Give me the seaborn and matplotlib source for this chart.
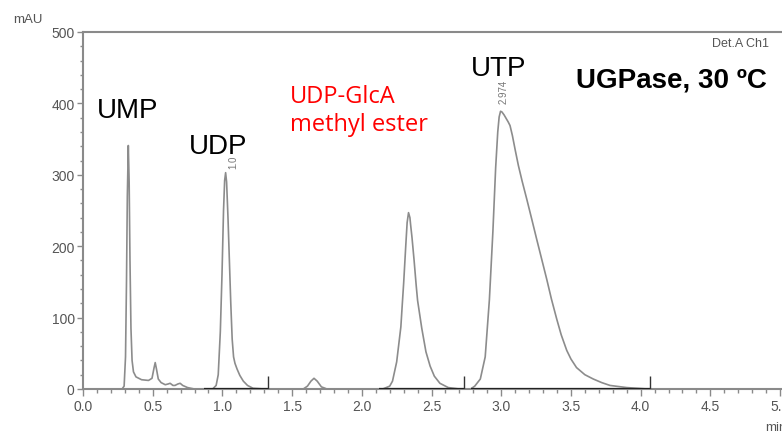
import pandas as pd
import matplotlib
matplotlib.use('Agg')
import matplotlib.pyplot as plt
from matplotlib.ticker import MultipleLocator
import seaborn as sns

# Chromatogram trace (time in min, absorbance in mAU)
time_min = [0.00, 0.28, 0.295, 0.305, 0.312, 0.318, 0.325, 0.331, 0.337, 0.344,
            0.352, 0.362, 0.38, 0.42, 0.47, 0.495, 0.51, 0.518, 0.527, 0.54,
            0.56, 0.59, 0.61, 0.625, 0.645, 0.66, 0.68, 0.697, 0.715, 0.75,
            0.80, 0.93, 0.955, 0.97, 0.985, 0.997, 1.008, 1.016, 1.023, 1.030,
            1.040, 1.05, 1.06, 1.07, 1.08, 1.09, 1.105, 1.125, 1.15, 1.18,
            1.22, 1.30, 1.58, 1.61, 1.635, 1.657, 1.68, 1.71, 1.75, 2.15,
            2.20, 2.22, 2.25, 2.28, 2.29, 2.30, 2.315, 2.325, 2.335, 2.345,
            2.35, 2.36, 2.375, 2.39, 2.40, 2.43, 2.46, 2.49, 2.52, 2.56,
            2.62, 2.70, 2.78, 2.81, 2.85, 2.885, 2.915, 2.94, 2.96, 2.975,
            2.985, 2.995, 3.005, 3.02, 3.035, 3.05, 3.063, 3.08, 3.10, 3.123,
            3.15, 3.183, 3.22, 3.254, 3.29, 3.326, 3.36, 3.398, 3.43, 3.47,
            3.50, 3.54, 3.60, 3.66, 3.72, 3.78, 3.90, 4.05, 5.20]
mau = [0, 0, 4, 45, 150, 270, 341, 290, 180, 85,
       40, 24, 17, 13, 12, 15, 30, 37, 28, 14,
       9, 6, 7, 8, 5, 5, 7, 8, 5, 2,
       0, 0, 5, 20, 80, 160, 250, 292, 303, 290,
       240, 180, 120, 70, 45, 36, 28, 19, 11, 5,
       1, 0, 0, 4, 11, 15, 11, 3, 0, 0,
       4, 11, 38, 87, 118, 148, 200, 233, 247, 240,
       230, 212, 180, 145, 124, 85, 52, 32, 18, 8,
       2, 0, 0, 4, 14, 45, 125, 220, 310, 360,
       381, 389, 388, 384, 379, 374, 369, 355, 335, 313,
       291, 266, 237, 210, 182, 154, 126, 98, 76, 54,
       42, 30, 20, 14, 9, 5, 2, 0, 0]

# Integration baselines and peak-end markers
base_start = [0.87, 2.12, 2.78]
base_end = [1.33, 2.73, 4.07]
marker_times = [1.33, 2.73, 4.07]

# Peak labels
peak_names = ['UMP', 'UDP', 'UTP']
peak_label_x = [0.323, 0.968, 2.98]
peak_label_y = [391, 340, 450]

trace = pd.DataFrame({'time': time_min, 'mAU': mau})

sns.set_style("white")
plt.rcParams['font.family'] = ['Liberation Sans', 'DejaVu Sans']

fig = plt.figure(figsize=(7.82, 4.35), dpi=100)
ax = fig.add_axes([83 / 782, 45 / 435, 711 / 782, 357 / 435])

axis_grey = '#8a8a8a'
label_grey = '#555555'

sns.lineplot(data=trace, x='time', y='mAU', ax=ax, sort=False,
             color='#8c8c8c', linewidth=1.2)

ax.hlines([0] * len(base_start), base_start, base_end, color='#222222', linewidth=1.6, zorder=3)
ax.vlines(marker_times, 0, 18, color='#333333', linewidth=1.0, zorder=3)

ax.set_xlim(0, 5.1)
ax.set_ylim(0, 500)
ax.set_xlabel('')
ax.set_ylabel('')

ax.xaxis.set_major_locator(MultipleLocator(0.5))
ax.xaxis.set_minor_locator(MultipleLocator(0.1))
ax.yaxis.set_major_locator(MultipleLocator(100))
ax.yaxis.set_minor_locator(MultipleLocator(20))
ax.xaxis.set_major_formatter(matplotlib.ticker.FormatStrFormatter('%.1f'))

ax.tick_params(axis='x', which='major', direction='out', length=5, width=1,
               color=axis_grey, labelcolor=label_grey, labelsize=10, pad=2, bottom=True)
ax.tick_params(axis='x', which='minor', direction='out', length=3, width=1,
               color=axis_grey, bottom=True)
ax.tick_params(axis='y', which='major', direction='out', length=4, width=1,
               color=axis_grey, labelcolor=label_grey, labelsize=10, pad=2, left=True)
ax.tick_params(axis='y', which='minor', direction='out', length=2.5, width=1,
               color=axis_grey, left=True)

for side in ['left', 'bottom', 'top']:
    ax.spines[side].set_color(axis_grey)
    ax.spines[side].set_linewidth(1.5)
ax.spines['right'].set_visible(False)

for name, lx, ly in zip(peak_names, peak_label_x, peak_label_y):
    ax.text(lx, ly, name, ha='center', va='center', fontsize=20, color='black')

ax.text(1.485, 391, 'UDP-GlcA\nmethyl ester', ha='left', va='center',
        fontsize=17, color='#ff0000', family=['Open Sans', 'DejaVu Sans'],
        linespacing=1.25)
ax.text(3.537, 433, 'UGPase, 30 ºC', ha='left', va='center',
        fontsize=20, fontweight='bold', color='black')

# small retention-time labels partly hidden behind the peak names, as in the original
ax.text(1.076, 310, '1.0', rotation=90, ha='center', va='bottom',
        fontsize=7, color='#777777')
ax.text(3.015, 400, '2.974', rotation=90, ha='center', va='bottom',
        fontsize=7, color='#777777')

fig.text(28 / 782, 1 - 20 / 435, 'mAU', ha='center', va='center',
         fontsize=9.5, color=label_grey)
fig.text(712 / 782, 1 - 44 / 435, 'Det.A Ch1', ha='left', va='center',
         fontsize=9, color=label_grey)
fig.text(776 / 782, 1 - 428 / 435, 'min', ha='center', va='center',
         fontsize=9.5, color=label_grey)

fig.savefig('out.png', dpi=100)
